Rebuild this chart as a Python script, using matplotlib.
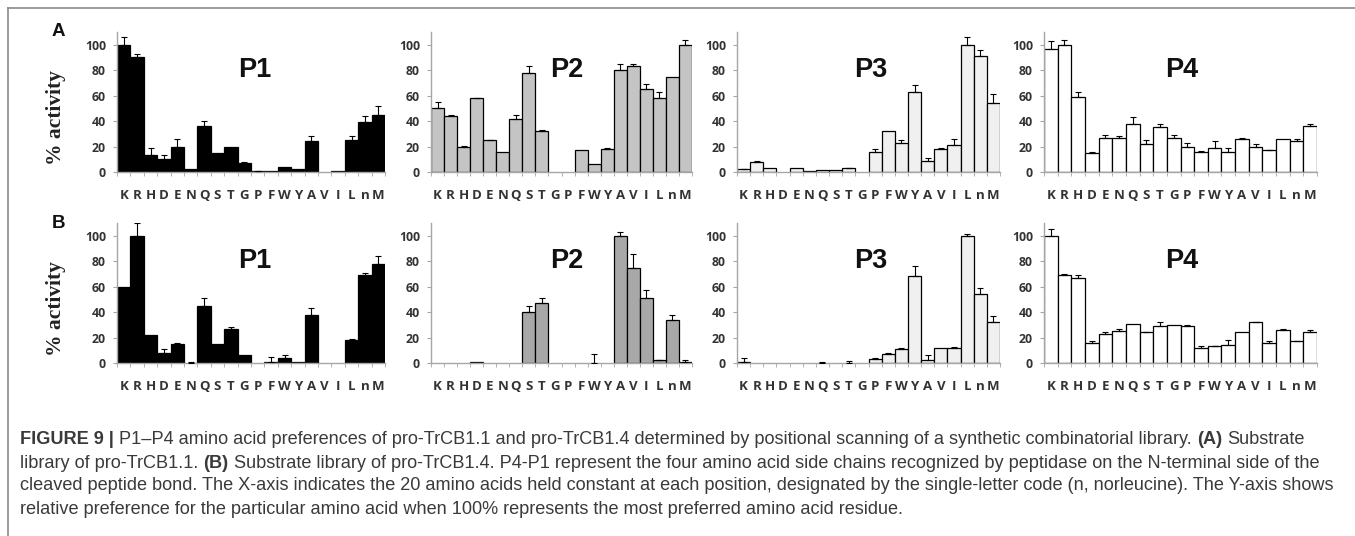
import numpy as np
import matplotlib
matplotlib.use("Agg")
import matplotlib.pyplot as plt
from matplotlib.lines import Line2D

# amino acids on the x axis (n = norleucine)
amino = ['K', 'R', 'H', 'D', 'E', 'N', 'Q', 'S', 'T', 'G',
         'P', 'F', 'W', 'Y', 'A', 'V', 'I', 'L', 'n', 'M']
positions = ['P1', 'P2', 'P3', 'P4']

# (A) pro-TrCB1.1
a_p1 = [100, 90, 13, 10, 20, 2, 36, 15, 20, 7, 0.5, 1, 4, 2, 24, 0, 0.5, 25, 39, 45]
a_p1_err = [6, 3, 6, 3, 6, 0, 4, 0, 0, 1, 0.5, 0, 0, 0, 4, 0, 0, 3, 5, 7]
a_p2 = [50, 44, 20, 58, 25, 16, 42, 78, 32, 0, 0, 17, 6, 18, 80, 83, 65, 58, 75, 100]
a_p2_err = [5, 1, 0.5, 0.5, 0.5, 0, 3, 5, 1, 0, 0, 0, 0, 1, 5, 2, 4, 5, 0, 4]
a_p3 = [2, 8, 3, 0, 3, 1, 1.5, 1.5, 3, 0, 16, 32, 23, 63, 9, 18, 21, 100, 91, 54]
a_p3_err = [0.5, 1, 0, 0, 0, 0, 0, 0, 0.5, 0, 2, 0, 2, 5, 2, 1, 5, 6, 5, 7]
a_p4 = [97, 100, 59, 15, 27, 27, 38, 22, 35, 27, 20, 16, 19, 16, 26, 20, 17, 26, 24, 36]
a_p4_err = [6, 4, 4, 1, 2, 1, 5, 3, 3, 2, 3, 0.5, 5, 3, 0.5, 2, 0.5, 0, 2, 2]

# (B) pro-TrCB1.4
b_p1 = [60, 100, 22, 8, 15, 0, 45, 15, 27, 6, 0, 1, 4, 1, 38, 0, 0, 18, 69, 78]
b_p1_err = [0, 10, 0, 3, 1, 1, 6, 0, 1, 0, 0, 4, 2, 0, 5, 0, 0, 1, 2, 6]
b_p2 = [0, 0, 0, 0.5, 0, 0, 0, 40, 47, 0, 0, 0, 0, 0, 100, 75, 51, 2, 34, 1]
b_p2_err = [0, 0, 0, 0, 0, 0, 0, 5, 4, 0, 0, 0, 7, 0, 3, 11, 6, 0.5, 4, 1]
b_p3 = [1, 0, 0, 0, 0, 0, 0, 0, 0, 0, 3, 7, 11, 68, 2, 12, 12, 100, 54, 32]
b_p3_err = [3, 0, 0, 0, 0, 0, 0.5, 0, 1.5, 0, 1, 0.5, 0.5, 8, 4, 0, 0.5, 1, 5, 5]
b_p4 = [100, 69, 67, 16, 23, 25, 31, 24, 29, 30, 29, 12, 13, 14, 24, 32, 16, 26, 17, 24]
b_p4_err = [5, 1, 2, 1, 1, 2, 0, 0.5, 3, 0, 0.5, 1, 0.5, 4, 0, 0.5, 1, 1, 0.5, 2]

rows = [
    ('A', [a_p1, a_p2, a_p3, a_p4], [a_p1_err, a_p2_err, a_p3_err, a_p4_err],
     ['black', '#c4c4c4', '#f0f0f0', 'white']),
    ('B', [b_p1, b_p2, b_p3, b_p4], [b_p1_err, b_p2_err, b_p3_err, b_p4_err],
     ['black', '#a8a8a8', '#f0f0f0', 'white']),
]

W, H = 1355, 536
fig = plt.figure(figsize=(W / 100, H / 100), dpi=100)

# panel placement in pixels
cols_px = [(117, 385), (431, 692), (737, 1000), (1044, 1317)]
rows_px = [(172, 32), (363, 223)]
title_x = [0.515, 0.52, 0.51, 0.505]
axis_grey = '#a6a6a6'
tick_font = 'Open Sans'

x = np.arange(len(amino))
for r, (letter, series, errors, colors) in enumerate(rows):
    y0, ytop = rows_px[r]
    for c in range(4):
        x0, x1 = cols_px[c]
        ax = fig.add_axes([x0 / W, 1 - y0 / H, (x1 - x0) / W, (y0 - ytop) / H])
        vals = np.array(series[c], dtype=float)
        errs = np.array(errors[c], dtype=float)
        keep = vals > 0
        ax.bar(x[keep], vals[keep], width=1.0, color=colors[c],
               edgecolor='black', linewidth=0.9, zorder=2)
        e = errs > 0
        ax.errorbar(x[e], vals[e], yerr=[np.zeros(e.sum()), errs[e]], fmt='none',
                    ecolor='black', elinewidth=0.8, capsize=2, capthick=0.8, zorder=3)
        ax.set_xlim(-0.5, len(amino) - 0.5)
        ax.set_ylim(0, 110)
        ax.set_yticks([0, 20, 40, 60, 80, 100])
        ax.set_xticks(x)
        ax.set_xticklabels(amino)
        ax.set_xticks(np.arange(-0.5, len(amino)), minor=True)
        ax.tick_params(axis='x', which='major', length=0, pad=12)
        ax.tick_params(axis='x', which='minor', length=3, color=axis_grey, direction='out')
        ax.tick_params(axis='y', length=3, color=axis_grey, pad=5)
        for lab in ax.get_xticklabels() + ax.get_yticklabels():
            lab.set_fontfamily(tick_font)
            lab.set_fontweight('bold')
            lab.set_color('#333333')
        for lab in ax.get_xticklabels():
            lab.set_fontsize(9.5)
        for lab in ax.get_yticklabels():
            lab.set_fontsize(8.8)
        for s in ['top', 'right']:
            ax.spines[s].set_visible(False)
        for s in ['left', 'bottom']:
            ax.spines[s].set_color(axis_grey)
            ax.spines[s].set_linewidth(1)
        ax.patch.set_alpha(0)
        ax.text(title_x[c], 0.73, positions[c], transform=ax.transAxes,
                ha='center', va='center', fontsize=19.5, fontweight='bold',
                family='Liberation Sans', color='#111111')
    # ylabel and panel letter
    fig.text(56 / W, 1 - (y0 - 54) / H, '% activity', rotation=90, ha='center', va='center',
             fontsize=15.5, fontweight='bold', family='Liberation Serif', color='#222222')
    fig.text(58 / W, 1 - (ytop + 0) / H, letter, ha='center', va='center',
             fontsize=13.5, fontweight='bold', family='Liberation Sans', color='#111111')

# frame lines (top and left)
fig.add_artist(Line2D([8 / W, 1], [1 - 8 / H, 1 - 8 / H], color='#8a8a8a', lw=1.2))
fig.add_artist(Line2D([8 / W, 8 / W], [0, 1 - 8 / H], color='#8a8a8a', lw=1.2))

# caption
cap_lines = [
    [("FIGURE 9 |", True),
     ("P1\u2013P4 amino acid preferences of pro-TrCB1.1 and pro-TrCB1.4 determined by positional scanning of a synthetic combinatorial library.", False),
     ("(A)", True), ("Substrate", False)],
    [("library of pro-TrCB1.1.", False), ("(B)", True),
     ("Substrate library of pro-TrCB1.4. P4-P1 represent the four amino acid side chains recognized by peptidase on the N-terminal side of the", False)],
    [("cleaved peptide bond. The X-axis indicates the 20 amino acids held constant at each position, designated by the single-letter code (n, norleucine). The Y-axis shows", False)],
    [("relative preference for the particular amino acid when 100% represents the most preferred amino acid residue.", False)],
]
cap_y = [440, 463, 486, 509]
cap_size = 13.1
renderer = fig.canvas.get_renderer()


def text_width(s, bold):
    t = fig.text(0, 0, s, fontsize=cap_size, family='Liberation Sans',
                 fontweight='bold' if bold else 'normal')
    w = t.get_window_extent(renderer=renderer).width
    t.remove()
    return w


space_w = text_width('a a', False) - text_width('aa', False)
for line, yy in zip(cap_lines, cap_y):
    xp = 20
    for s, bold in line:
        t = fig.text(xp / W, 1 - yy / H, s, fontsize=cap_size, family='Liberation Sans',
                     fontweight='bold' if bold else 'normal', color='#3a3a3a',
                     ha='left', va='center')
        xp += t.get_window_extent(renderer=renderer).width + space_w

fig.savefig('out.png', dpi=100)
